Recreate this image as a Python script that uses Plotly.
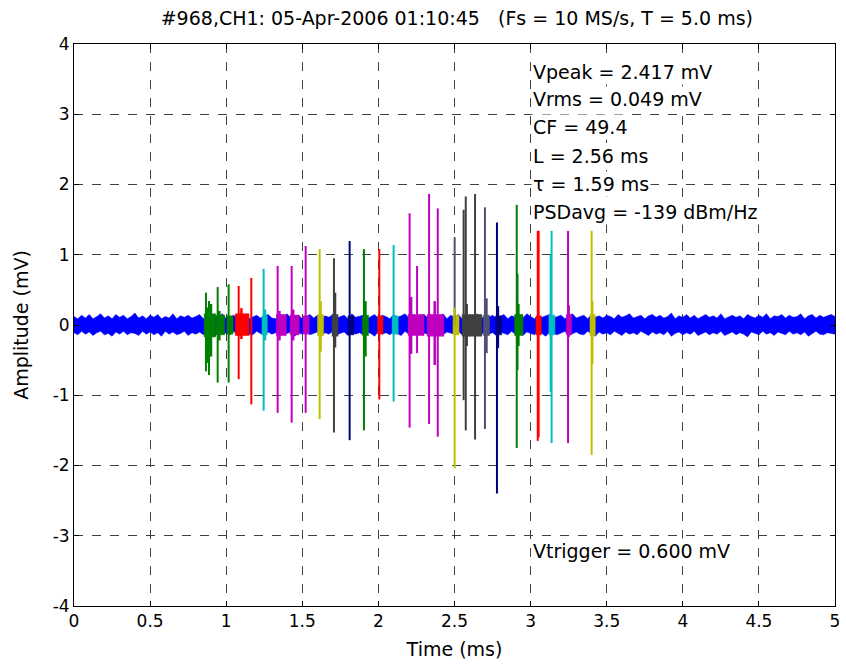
import plotly.graph_objects as go

# ---------------- data ----------------
x_ticks = [0, 0.5, 1, 1.5, 2, 2.5, 3, 3.5, 4, 4.5, 5]
y_ticks = [-4, -3, -2, -1, 0, 1, 2, 3, 4]

# background noise envelope, sampled every 0.025 ms (mV)
noise_t = [i * 0.025 for i in range(201)]
noise_upper = [0.12, 0.09, 0.14, 0.10, 0.15, 0.09, 0.12, 0.16, 0.10, 0.13,
               0.09, 0.15, 0.11, 0.14, 0.09, 0.12, 0.17, 0.10, 0.13, 0.09,
               0.14, 0.11, 0.15, 0.09, 0.12, 0.10, 0.16, 0.09, 0.13, 0.11,
               0.14, 0.10, 0.12, 0.15, 0.09, 0.13, 0.10, 0.14, 0.11, 0.16,
               0.09, 0.12, 0.14, 0.10, 0.13, 0.15, 0.09, 0.11, 0.14, 0.10,
               0.12, 0.15, 0.10, 0.09, 0.14, 0.11, 0.16, 0.10, 0.13, 0.14,
               0.09, 0.12, 0.15, 0.10, 0.14, 0.09, 0.13, 0.11, 0.15, 0.10,
               0.12, 0.14, 0.09, 0.16, 0.11, 0.13, 0.14, 0.09, 0.12, 0.15,
               0.10, 0.14, 0.12, 0.09, 0.15, 0.11, 0.13, 0.16, 0.10, 0.14,
               0.09, 0.13, 0.15, 0.10, 0.14, 0.11, 0.12, 0.16, 0.09, 0.14,
               0.11, 0.15, 0.09, 0.12, 0.14, 0.10, 0.16, 0.09, 0.13, 0.11,
               0.14, 0.10, 0.12, 0.15, 0.09, 0.13, 0.11, 0.14, 0.10, 0.16,
               0.12, 0.09, 0.14, 0.11, 0.13, 0.15, 0.10, 0.12, 0.14, 0.09,
               0.13, 0.16, 0.10, 0.12, 0.14, 0.09, 0.15, 0.11, 0.13, 0.10,
               0.14, 0.12, 0.09, 0.15, 0.11, 0.13, 0.16, 0.10, 0.12, 0.14,
               0.09, 0.13, 0.15, 0.11, 0.14, 0.10, 0.12, 0.17, 0.09, 0.13,
               0.11, 0.15, 0.10, 0.14, 0.09, 0.12, 0.15, 0.11, 0.13, 0.10,
               0.16, 0.09, 0.12, 0.14, 0.11, 0.13, 0.09, 0.15, 0.12, 0.10,
               0.14, 0.11, 0.16, 0.09, 0.13, 0.12, 0.15, 0.10, 0.14, 0.11,
               0.12, 0.16, 0.09, 0.13, 0.15, 0.10, 0.14, 0.11, 0.13, 0.15,
               0.12]
noise_lower = [-0.11, -0.14, -0.09, -0.13, -0.10, -0.15, -0.11, -0.09, -0.14, -0.12,
               -0.16, -0.10, -0.13, -0.09, -0.14, -0.11, -0.12, -0.15, -0.09, -0.13,
               -0.10, -0.14, -0.11, -0.16, -0.09, -0.13, -0.10, -0.14, -0.12, -0.09,
               -0.15, -0.11, -0.13, -0.10, -0.14, -0.09, -0.12, -0.16, -0.10, -0.13,
               -0.11, -0.14, -0.09, -0.15, -0.12, -0.10, -0.13, -0.14, -0.09, -0.12,
               -0.15, -0.10, -0.13, -0.11, -0.09, -0.14, -0.12, -0.10, -0.16, -0.11,
               -0.13, -0.09, -0.14, -0.12, -0.10, -0.15, -0.11, -0.13, -0.09, -0.14,
               -0.12, -0.10, -0.15, -0.09, -0.13, -0.11, -0.14, -0.10, -0.12, -0.16,
               -0.09, -0.13, -0.11, -0.14, -0.10, -0.12, -0.15, -0.09, -0.13, -0.11,
               -0.14, -0.10, -0.12, -0.13, -0.09, -0.15, -0.11, -0.14, -0.10, -0.12,
               -0.13, -0.09, -0.14, -0.11, -0.16, -0.10, -0.12, -0.14, -0.09, -0.13,
               -0.11, -0.15, -0.10, -0.12, -0.14, -0.09, -0.13, -0.11, -0.15, -0.10,
               -0.12, -0.14, -0.09, -0.13, -0.16, -0.10, -0.12, -0.14, -0.11, -0.09,
               -0.15, -0.12, -0.10, -0.13, -0.14, -0.09, -0.12, -0.16, -0.10, -0.13,
               -0.11, -0.14, -0.09, -0.12, -0.15, -0.10, -0.13, -0.11, -0.14, -0.09,
               -0.12, -0.15, -0.10, -0.13, -0.11, -0.14, -0.09, -0.16, -0.12, -0.10,
               -0.14, -0.11, -0.13, -0.09, -0.15, -0.12, -0.10, -0.14, -0.11, -0.13,
               -0.09, -0.15, -0.12, -0.10, -0.14, -0.11, -0.13, -0.17, -0.10, -0.12,
               -0.14, -0.09, -0.13, -0.11, -0.15, -0.10, -0.12, -0.14, -0.09, -0.13,
               -0.11, -0.14, -0.10, -0.16, -0.12, -0.09, -0.13, -0.14, -0.11, -0.12,
               -0.13]

# detected pulses: time (ms), max (mV), min (mV), colour name
spike_t = [0.867, 0.887, 0.944, 1.016, 1.082, 1.165, 1.246, 1.338, 1.430, 1.522,
           1.614, 1.708, 1.811, 1.905, 2.006, 2.100, 2.205, 2.254, 2.333, 2.390,
           2.501, 2.501, 2.560, 2.574, 2.635, 2.700, 2.779, 2.909, 2.914, 3.047,
           3.053, 3.132, 3.138, 3.246, 3.401]
spike_max = [0.46, 0.34, 0.54, 0.58, 0.555, 0.67, 0.80, 0.84, 0.84, 1.125,
             1.08, 0.95, 1.195, 1.08, 1.08, 1.14, 1.59, 0.84, 1.865, 1.66,
             1.25, 0.25, 1.64, 1.83, 1.865, 1.675, 1.46, 1.71, 0.73, 1.34,
             1.34, 1.00, 1.34, 1.34, 1.34]
spike_min = [-0.66, -0.71, -0.82, -0.82, -0.77, -1.13, -1.22, -1.25, -1.39, -1.25,
             -1.34, -1.53, -1.64, -1.50, -1.06, -1.09, -1.46, -0.40, -1.41, -1.59,
             0.0, -2.04, -1.07, -1.50, -1.63, -1.48, -2.40, -1.75, -0.64, -1.65,
             -1.60, -0.95, -1.68, -1.68, -1.85]
spike_col = ["g", "g", "g", "g", "r", "r", "c", "m", "m", "m",
             "y", "k", "n", "g", "r", "c", "m", "m", "m", "m",
             "s", "y", "k", "k", "k", "s", "n", "g", "g", "r",
             "r", "c", "c", "m", "y"]

# smaller ringing peaks inside each pulse record
minor_t = [0.875, 0.900, 0.955, 1.100, 1.255, 1.350, 1.440, 1.620, 1.715, 1.915,
           2.215, 2.370, 2.580, 2.710, 2.785, 2.920, 3.250, 3.405]
minor_max = [0.25, 0.30, 0.20, 0.24, 0.22, 0.20, 0.22, 0.34, 0.46, 0.34,
             0.40, 0.34, 0.30, 0.38, 0.27, 0.30, 0.28, 0.34]
minor_min = [-0.54, -0.45, -0.22, -0.20, -0.22, -0.22, -0.22, -0.38, -0.32, -0.45,
             -0.41, -0.57, -0.30, -0.40, -0.33, -0.30, -0.17, -0.56]
minor_col = ["g", "g", "g", "r", "c", "m", "m", "y", "k", "g",
             "m", "m", "k", "s", "n", "g", "m", "y"]

# coloured stretches of the trace (pulse records): start, end (ms), upper, lower (mV)
burst_t0 = [0.855, 0.935, 1.005, 1.060, 1.235, 1.330, 1.420, 1.505, 1.600, 1.695,
            1.800, 1.895, 1.995, 2.090, 2.195, 2.320, 2.490, 2.550, 2.690, 2.770,
            2.895, 3.035, 3.120, 3.235, 3.390]
burst_t1 = [0.930, 0.990, 1.045, 1.150, 1.270, 1.395, 1.480, 1.545, 1.640, 1.735,
            1.840, 1.935, 2.030, 2.130, 2.300, 2.430, 2.530, 2.680, 2.730, 2.810,
            2.950, 3.070, 3.160, 3.270, 3.425]
burst_up = [0.16, 0.14, 0.13, 0.16, 0.13, 0.15, 0.14, 0.13, 0.15, 0.15,
            0.13, 0.14, 0.13, 0.13, 0.15, 0.15, 0.14, 0.15, 0.14, 0.13,
            0.15, 0.13, 0.14, 0.15, 0.15]
burst_lo = [-0.17, -0.14, -0.13, -0.15, -0.14, -0.15, -0.14, -0.13, -0.15, -0.16,
            -0.14, -0.15, -0.13, -0.13, -0.15, -0.16, -0.14, -0.16, -0.15, -0.14,
            -0.15, -0.14, -0.14, -0.14, -0.15]
burst_col = ["g", "g", "g", "r", "c", "m", "m", "m", "y", "k",
             "n", "g", "r", "c", "m", "m", "y", "k", "s", "n",
             "g", "r", "c", "m", "y"]

stats_text = ["Vpeak = 2.417 mV", "Vrms = 0.049 mV", "CF = 49.4",
              "L = 2.56 ms", "\u03c4 = 1.59 ms", "PSDavg = -139 dBm/Hz"]
stats_y = [3.60, 3.22, 2.82, 2.41, 2.01, 1.61]
trigger_text = "Vtrigger = 0.600 mV"
trigger_y = -3.22

title_text = ("#968,CH1: 05-Apr-2006 01:10:45\u00a0\u00a0\u00a0"
              "(Fs = 10 MS/s, T = 5.0 ms)")

# ---------------- styles ----------------
palette = {"b": "#0000FF", "g": "#008000", "r": "#FF0000", "c": "#00BFBF",
           "m": "#BF00BF", "y": "#BFBF00", "k": "#404040", "n": "#000080",
           "s": "#505070"}
FONT = "DejaVu Sans, Liberation Sans, Arial, sans-serif"

fig = go.Figure()

# noise band
fig.add_trace(go.Scatter(
    x=noise_t + noise_t[::-1],
    y=noise_upper + noise_lower[::-1],
    fill="toself", fillcolor=palette["b"], mode="lines",
    line=dict(color=palette["b"], width=0.5), hoverinfo="skip", showlegend=False))

# coloured pulse records
for t0, t1, up, lo, c in zip(burst_t0, burst_t1, burst_up, burst_lo, burst_col):
    fig.add_trace(go.Scatter(
        x=[t0, t0, t1, t1, t0], y=[lo, up, up, lo, lo],
        fill="toself", fillcolor=palette[c], mode="lines",
        line=dict(color=palette[c], width=0.5), hoverinfo="skip", showlegend=False))

# ringing peaks
for t, vmax, vmin, c in zip(minor_t, minor_max, minor_min, minor_col):
    fig.add_trace(go.Scatter(
        x=[t, t], y=[vmax, vmin], mode="lines",
        line=dict(color=palette[c], width=2.5), hoverinfo="skip", showlegend=False))

# main pulses
for t, vmax, vmin, c in zip(spike_t, spike_max, spike_min, spike_col):
    fig.add_trace(go.Scatter(
        x=[t, t], y=[vmax, vmin], mode="lines",
        line=dict(color=palette[c], width=2), hoverinfo="skip", showlegend=False))

annotations = []
for txt, yy in zip(stats_text, stats_y):
    annotations.append(dict(x=3.0, y=yy, xref="x", yref="y", text=txt,
                            showarrow=False, xanchor="left", yanchor="middle",
                            font=dict(family=FONT, size=19, color="black"),
                            bgcolor="white", borderpad=1))
annotations.append(dict(x=3.0, y=trigger_y, xref="x", yref="y", text=trigger_text,
                        showarrow=False, xanchor="left", yanchor="middle",
                        font=dict(family=FONT, size=19, color="black"),
                        bgcolor="white", borderpad=1))

axis_common = dict(showline=True, linecolor="black", linewidth=1, mirror="ticks",
                   ticks="inside", ticklen=5, tickcolor="black", automargin=False,
                   showgrid=True, gridcolor="#404040", griddash="dash", gridwidth=1,
                   zeroline=False, tickfont=dict(family=FONT, size=17, color="black"))

fig.update_layout(
    width=846, height=666,
    margin=dict(l=74, r=11, t=44, b=60),
    paper_bgcolor="white", plot_bgcolor="white",
    title=dict(text=title_text, x=0.54, xanchor="center", y=0.972, yanchor="middle",
               font=dict(family=FONT, size=19, color="black")),
    xaxis=dict(range=[0, 5], tickvals=x_ticks, ticktext=[str(v) for v in x_ticks],
               title=dict(text="Time (ms)", font=dict(family=FONT, size=19, color="black"),
                          standoff=12),
               **axis_common),
    yaxis=dict(range=[-4, 4], tickvals=y_ticks, ticktext=[str(v) for v in y_ticks],
               title=dict(text="Amplitude (mV)", font=dict(family=FONT, size=19, color="black"),
                          standoff=18),
               **axis_common),
    annotations=annotations,
    showlegend=False,
)

fig.write_html("out.html")
